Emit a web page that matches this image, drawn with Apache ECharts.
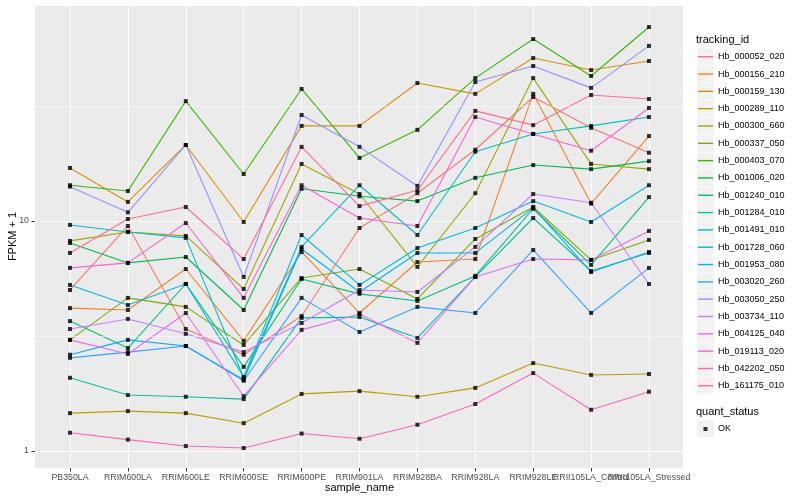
<!DOCTYPE html>
<html><head><meta charset="utf-8">
<script src="https://cdn.jsdelivr.net/npm/echarts@6/dist/echarts.min.js"></script>
<style>html,body{margin:0;padding:0;background:#fff}#c{width:800px;height:500px}</style>
</head><body><div id="c"></div>
<script>
// ---- data ----
const categories = ['PB350LA','RRIM600LA','RRIM600LE','RRIM600SE','RRIM600PE','RRIM901LA','RRIM928BA','RRIM928LA','RRIM928LE','RRII105LA_Control','RRII105LA_Stressed'];
const trackingIds = ['Hb_000052_020','Hb_000156_210','Hb_000159_130','Hb_000289_110','Hb_000300_660','Hb_000337_050','Hb_000403_070','Hb_001006_020','Hb_001240_010','Hb_001284_010','Hb_001491_010','Hb_001728_060','Hb_001953_080','Hb_003020_260','Hb_003050_250','Hb_003734_110','Hb_004125_040','Hb_019113_020','Hb_042202_050','Hb_161175_010'];
const Hb_000052_020 = [5.01, 9.51, 3.39, 2.62, 3.86, 9.32, 13.2, 20.4, 34.6, 25.4, 19.8];
const Hb_000156_210 = [4.18, 4.10, 6.18, 3.01, 7.33, 3.98, 6.63, 6.83, 35.7, 11.9, 23.4];
const Hb_000159_130 = [17.0, 12.1, 21.4, 9.90, 25.9, 25.9, 39.8, 35.7, 51.1, 45.3, 49.6];
const Hb_000289_110 = [1.46, 1.49, 1.46, 1.32, 1.77, 1.82, 1.72, 1.88, 2.41, 2.14, 2.16];
const Hb_000300_660 = [8.19, 8.96, 8.61, 5.06, 17.7, 13.1, 6.31, 13.2, 41.8, 17.7, 16.8];
const Hb_000337_050 = [3.04, 4.63, 4.23, 2.89, 5.65, 6.18, 4.58, 8.35, 11.5, 6.77, 8.27];
const Hb_000403_070 = [14.3, 13.5, 33.2, 16.0, 37.5, 18.8, 24.9, 41.8, 61.8, 42.7, 69.7];
const Hb_001006_020 = [8.02, 6.57, 6.97, 4.10, 13.8, 12.8, 12.2, 15.4, 17.5, 16.8, 18.2];
const Hb_001240_010 = [3.67, 2.80, 5.32, 2.32, 5.59, 4.82, 4.49, 5.77, 11.3, 6.44, 12.7];
const Hb_001284_010 = [2.08, 1.75, 1.72, 1.68, 3.79, 3.82, 3.10, 5.71, 10.3, 6.06, 7.26];
const Hb_001491_010 = [9.61, 8.96, 8.44, 2.08, 7.71, 14.3, 8.69, 20.0, 23.9, 25.9, 28.3];
const Hb_001728_060 = [5.27, 4.31, 5.32, 2.10, 8.69, 5.27, 7.63, 9.32, 12.2, 9.90, 14.3];
const Hb_001953_080 = [2.62, 3.04, 2.86, 2.04, 7.55, 4.91, 7.26, 7.26, 11.4, 6.00, 7.33];
const Hb_003020_260 = [2.54, 2.69, 2.86, 2.02, 4.63, 3.29, 4.23, 3.98, 7.48, 3.98, 6.25];
const Hb_003050_250 = [14.1, 10.9, 21.4, 5.71, 28.9, 21.0, 14.2, 40.2, 47.2, 37.9, 57.7];
const Hb_003734_110 = [3.39, 3.75, 3.23, 2.69, 3.60, 5.01, 4.91, 7.71, 13.1, 12.0, 5.32];
const Hb_004125_040 = [3.04, 2.64, 3.98, 1.73, 3.36, 3.94, 2.95, 5.71, 6.83, 6.77, 9.05];
const Hb_019113_020 = [6.25, 6.57, 9.80, 4.63, 14.3, 10.3, 9.51, 28.3, 23.9, 20.2, 31.0];
const Hb_042202_050 = [1.20, 1.12, 1.05, 1.03, 1.19, 1.13, 1.30, 1.60, 2.18, 1.51, 1.81];
const Hb_161175_010 = [7.26, 10.2, 11.5, 6.83, 21.0, 11.6, 13.6, 30.1, 26.1, 35.3, 33.9];
const seriesValues = [Hb_000052_020, Hb_000156_210, Hb_000159_130, Hb_000289_110, Hb_000300_660, Hb_000337_050, Hb_000403_070, Hb_001006_020, Hb_001240_010, Hb_001284_010, Hb_001491_010, Hb_001728_060, Hb_001953_080, Hb_003020_260, Hb_003050_250, Hb_003734_110, Hb_004125_040, Hb_019113_020, Hb_042202_050, Hb_161175_010];
const quantStatus = ['OK'];
const yTickLabels = ['1', '10'];
const yMinorValues = [3.1623, 31.623];
const yRange = [0.843, 86.9];

// ---- style ----
const colors = ['#F8766D','#EA8331','#D89000','#C09B00','#A3A500','#7CAE00','#39B600','#00BB4E','#00BF7D','#00C1A3','#00BFC4','#00BAE0','#00B0F6','#35A2FF','#9590FF','#C77CFF','#E76BF3','#FA62DB','#FF62BC','#FF6C91'];
const FONT = "'Liberation Sans', Arial, sans-serif";
const rowH = 17.32, firstRow = 56.7;

const chart = echarts.init(document.getElementById('c'), null, {renderer: 'canvas'});

const lineSeries = trackingIds.map((id, i) => ({
  name: id, type: 'line', xAxisIndex: 1, yAxisIndex: 1,
  data: seriesValues[i], showSymbol: false, symbol: 'none',
  lineStyle: {color: colors[i], width: 1.1}, itemStyle: {color: colors[i]},
  emphasis: {disabled: true}, z: 3
}));

const pointData = [];
seriesValues.forEach(arr => arr.forEach((v, j) => pointData.push([j, v])));

const keyRects = [];
for (let i = 0; i < trackingIds.length; i++) {
  keyRects.push({type: 'rect', silent: true, z: -1, shape: {x: 697, y: firstRow + i * rowH - 8.3, width: 17, height: 16.6}, style: {fill: '#F2F2F2'}});
}
keyRects.push({type: 'rect', silent: true, z: -1, shape: {x: 697, y: 429 - 8.3, width: 17, height: 16.6}, style: {fill: '#F2F2F2'}});

function isMajor(v) {
  return yTickLabels.some(t => Math.abs(v - Number(t)) < 1e-6 * Number(t));
}

const option = {
  animation: false,
  backgroundColor: '#fff',
  textStyle: {fontFamily: FONT},
  title: [
    {text: 'tracking_id', left: 696, top: 34.5, padding: 0, textStyle: {fontSize: 11, fontWeight: 'normal', color: '#000', fontFamily: FONT}},
    {text: 'quant_status', left: 696, top: 406, padding: 0, textStyle: {fontSize: 11, fontWeight: 'normal', color: '#000', fontFamily: FONT}}
  ],
  graphic: keyRects,
  legend: [
    {data: trackingIds, orient: 'vertical', left: 698, top: firstRow - rowH / 2, padding: 0, itemGap: 0,
     itemWidth: 15, itemHeight: 1.4, icon: 'rect', selectedMode: false,
     textStyle: {fontSize: 9, color: '#000', lineHeight: rowH, fontFamily: FONT}},
    {data: quantStatus, orient: 'vertical', left: 698, top: 429 - rowH / 2, padding: 0, itemGap: 0,
     itemWidth: 15, itemHeight: 15, selectedMode: false,
     icon: 'path://M0,0h0.001v0.001h-0.001z M5.5,5.5h4v4h-4z M15,15h0.001v0.001h-0.001z',
     textStyle: {fontSize: 9, color: '#000', lineHeight: rowH, fontFamily: FONT}}
  ],
  grid: [
    {left: 35, top: 5, width: 648, height: 463, show: true, backgroundColor: '#EBEBEB', borderWidth: 0, containLabel: false, outerBoundsMode: 'none'},
    {left: 70, top: 5, width: 579, height: 463, show: false, containLabel: false, outerBoundsMode: 'none'},
    {left: 31.5, top: 5, width: 3.5, height: 463, show: false, containLabel: false, outerBoundsMode: 'none'}
  ],
  xAxis: [
    {type: 'value', gridIndex: 0, min: 0, max: 1, show: false},
    {type: 'category', gridIndex: 1, data: categories, boundaryGap: false,
     name: 'sample_name', nameLocation: 'middle', nameGap: 14.5, nameMoveOverlap: false,
     nameTextStyle: {fontSize: 11, color: '#000', fontFamily: FONT, verticalAlign: 'top'},
     axisLine: {show: false},
     axisTick: {show: true, length: 3.5, lineStyle: {color: '#333', width: 1.05}, alignWithLabel: true},
     axisLabel: {interval: 0, fontSize: 8.8, color: '#4D4D4D', margin: 5.5, fontFamily: FONT, hideOverlap: false},
     splitLine: {show: true, lineStyle: {color: '#fff', width: 1.1}}},
    {type: 'value', gridIndex: 2, min: 0, max: 1, show: false}
  ],
  yAxis: [
    {type: 'log', logBase: 10, gridIndex: 0, min: yRange[0], max: yRange[1],
     name: 'FPKM + 1', nameLocation: 'middle', nameRotate: 90, nameGap: 17, nameMoveOverlap: false,
     nameTextStyle: {fontSize: 11, color: '#000', fontFamily: FONT},
     axisLine: {show: false},
     axisTick: {show: false},
     axisLabel: {fontSize: 8.8, color: '#4D4D4D', margin: 6, fontFamily: FONT,
       showMinLabel: false, showMaxLabel: false,
       formatter: v => (isMajor(v) ? String(Math.round(v)) : '')},
     splitLine: {show: true, lineStyle: {color: '#fff', width: 1.1}}},
    {type: 'log', logBase: 10, gridIndex: 1, min: yRange[0], max: yRange[1], show: false,
     splitLine: {show: false}},
    {type: 'log', logBase: 10, gridIndex: 2, min: yRange[0], max: yRange[1], show: false}
  ],
  series: [
    {type: 'line', xAxisIndex: 0, yAxisIndex: 0, data: [], silent: true, z: 1,
     markLine: {silent: true, symbol: 'none', label: {show: false}, animation: false,
       lineStyle: {color: '#fff', width: 0.5, type: 'solid'},
       data: yMinorValues.map(v => ({yAxis: v}))}},
    {type: 'line', xAxisIndex: 2, yAxisIndex: 2, data: [], silent: true, z: 1,
     markLine: {silent: true, symbol: 'none', label: {show: false}, animation: false,
       lineStyle: {color: '#333', width: 1.05, type: 'solid'},
       data: yTickLabels.map(t => ({yAxis: Number(t)}))}},
    ...lineSeries,
    {name: 'OK', type: 'scatter', xAxisIndex: 1, yAxisIndex: 1, data: pointData,
     symbol: 'rect', symbolSize: 4, itemStyle: {color: '#000'}, z: 5, silent: true}
  ]
};
chart.setOption(option);
</script></body></html>
